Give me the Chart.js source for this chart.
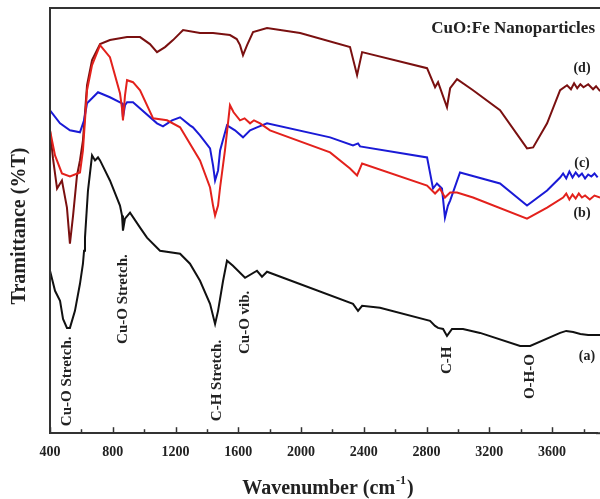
<!DOCTYPE html>
<html>
<head>
<meta charset="utf-8">
<script src="https://cdn.jsdelivr.net/npm/chart.js@4.4.1/dist/chart.umd.min.js"></script>
<style>
  html, body { margin: 0; padding: 0; background: #fff; }
  #wrap { width: 600px; height: 499px; }
</style>
</head>
<body>
<div id="wrap"><canvas id="ftir" width="600" height="499"></canvas></div>
<script>
// FTIR spectra, transmittance in arbitrary units (curves are offset)
const waveA = [400, 432, 464, 483, 508, 527, 559, 591, 610, 617, 623, 642, 668, 687, 706, 719, 782, 846, 859, 865, 878, 910, 974, 1018, 1101, 1229, 1292, 1356, 1420, 1452, 1471, 1503, 1528, 1566, 1643, 1719, 1751, 1783, 2331, 2363, 2389, 2503, 2822, 2854, 2873, 2905, 2930, 2962, 3032, 3141, 3396, 3460, 3651, 3690, 3734, 3780, 3830, 3906];
const transA = [162, 142, 132, 114, 105, 105, 122, 149, 169, 182, 195, 242, 277, 272, 275, 272, 252, 227, 217, 202, 214, 220, 205, 195, 182, 179, 169, 152, 129, 109, 122, 152, 172, 167, 155, 162, 156, 161, 129, 122, 127, 125, 112, 107, 105, 104, 97, 104, 104, 100, 87, 87, 100, 102, 101, 99, 98, 98];

const waveB = [400, 432, 476, 527, 591, 610, 636, 668, 719, 782, 846, 859, 865, 878, 891, 929, 974, 1057, 1146, 1229, 1356, 1420, 1439, 1452, 1471, 1484, 1515, 1547, 1570, 1611, 1640, 1675, 1700, 1739, 1802, 2185, 2312, 2357, 2389, 2803, 2854, 2885, 2917, 2950, 2994, 3096, 3440, 3568, 3670, 3690, 3710, 3730, 3750, 3770, 3790, 3810, 3840, 3870, 3906];
const transB = [302, 277, 259, 256, 260, 282, 342, 367, 387, 375, 339, 324, 312, 337, 352, 350, 342, 314, 312, 305, 272, 245, 227, 217, 227, 245, 282, 327, 320, 312, 314, 309, 312, 309, 302, 280, 264, 257, 269, 247, 239, 244, 235, 240, 240, 235, 214, 225, 235, 239, 233, 238, 234, 239, 235, 237, 233, 237, 235];

const waveC = [400, 464, 527, 591, 617, 636, 706, 782, 859, 865, 878, 891, 929, 1082, 1120, 1178, 1229, 1292, 1311, 1356, 1420, 1439, 1452, 1471, 1484, 1528, 1579, 1630, 1675, 1719, 1783, 2185, 2331, 2363, 2376, 2803, 2841, 2866, 2898, 2917, 2936, 2950, 3013, 3268, 3440, 3568, 3651, 3670, 3690, 3710, 3730, 3750, 3770, 3790, 3810, 3830, 3850, 3870, 3890, 3906];
const transC = [322, 309, 302, 300, 312, 329, 340, 335, 329, 315, 327, 330, 330, 309, 306, 312, 315, 307, 305, 297, 284, 267, 252, 262, 282, 307, 302, 295, 302, 305, 309, 295, 287, 289, 286, 275, 244, 249, 244, 215, 227, 232, 260, 249, 227, 242, 255, 259, 254, 261, 255, 260, 256, 259, 254, 258, 256, 259, 255, 257];

const waveD = [400, 419, 445, 476, 508, 527, 547, 572, 591, 610, 636, 668, 719, 782, 891, 974, 1037, 1082, 1133, 1184, 1248, 1356, 1439, 1547, 1590, 1611, 1630, 1656, 1694, 1783, 1994, 2312, 2357, 2389, 2803, 2854, 2873, 2930, 2950, 2994, 3096, 3268, 3440, 3479, 3568, 3651, 3695, 3720, 3740, 3760, 3780, 3800, 3830, 3861, 3880, 3906];
const transD = [302, 274, 244, 252, 225, 189, 217, 257, 272, 292, 347, 372, 388, 392, 395, 395, 388, 380, 385, 392, 402, 399, 399, 397, 393, 387, 377, 387, 400, 404, 399, 385, 357, 380, 364, 345, 350, 325, 344, 353, 342, 322, 284, 285, 309, 342, 347, 343, 349, 344, 348, 345, 348, 343, 346, 341];

const seriesNames = ['(a)', '(b)', '(c)', '(d)'];
const seriesColors = ['#111111', '#e3211c', '#1a1ad6', '#7a1010'];

// peak assignments: label, wavenumber, where the text starts (transmittance units)
const peakLabels = ['Cu-O Stretch.', 'Cu-O Stretch.', 'C-H Stretch.', 'Cu-O vib.', 'C-H', 'O-H-O'];
const peakWave = [508, 865, 1465, 1643, 2930, 3460];
const peakStart = [7, 89, 12, 79, 59, 34];

function pts(xs, ys) {
  return xs.map((x, i) => ({x: x, y: ys[i]}));
}

const serif = '"Liberation Serif", "Times New Roman", serif';

const annotate = {
  id: 'annotate',
  afterDraw(chart) {
    const ctx = chart.ctx;
    const area = chart.chartArea;
    const xs = chart.scales.x;
    const ys = chart.scales.y;
    ctx.save();
    // left and top frame
    ctx.strokeStyle = '#333';
    ctx.lineWidth = 2;
    ctx.beginPath();
    ctx.moveTo(area.left, area.bottom);
    ctx.lineTo(area.left, area.top);
    ctx.lineTo(chart.width, area.top);
    ctx.stroke();
    // bottom axis runs to the edge of the picture
    ctx.beginPath();
    ctx.moveTo(area.right - 1, area.bottom);
    ctx.lineTo(chart.width, area.bottom);
    ctx.stroke();
    // inward ticks
    ctx.lineWidth = 1.5;
    for (let v = 400; v <= 3900; v += 200) {
      const px = Math.round(xs.getPixelForValue(v)) + 0.5;
      const len = v % 400 === 0 ? 6 : 4;
      ctx.beginPath();
      ctx.moveTo(px, area.bottom);
      ctx.lineTo(px, area.bottom - len);
      ctx.stroke();
    }
    ctx.fillStyle = '#222';
    // rotated peak labels
    ctx.font = 'bold 15px ' + serif;
    ctx.textAlign = 'left';
    ctx.textBaseline = 'middle';
    peakLabels.forEach((t, i) => {
      ctx.save();
      ctx.translate(xs.getPixelForValue(peakWave[i]), ys.getPixelForValue(peakStart[i]));
      ctx.rotate(-Math.PI / 2);
      ctx.fillText(t, 0, 0);
      ctx.restore();
    });
    // series letters at right end
    ctx.font = 'bold 14px ' + serif;
    ctx.textAlign = 'center';
    ctx.fillText('(d)', 582, 68);
    ctx.fillText('(c)', 582, 163);
    ctx.fillText('(b)', 582, 213);
    ctx.fillText('(a)', 587, 356);
    // sample title
    ctx.font = 'bold 17px ' + serif;
    ctx.textAlign = 'right';
    ctx.fillText('CuO:Fe Nanoparticles', 595, 29);
    // y title
    ctx.font = 'bold 20px ' + serif;
    ctx.textAlign = 'center';
    ctx.save();
    ctx.translate(20, 226);
    ctx.rotate(-Math.PI / 2);
    ctx.fillText('Tramittance (%T)', 0, 0);
    ctx.restore();
    // x title with superscript
    const main = 'Wavenumber (cm';
    ctx.textAlign = 'left';
    ctx.font = 'bold 20px ' + serif;
    const w1 = ctx.measureText(main).width;
    ctx.font = 'bold 12px ' + serif;
    const w2 = ctx.measureText('-1').width;
    ctx.font = 'bold 20px ' + serif;
    const w3 = ctx.measureText(')').width;
    let x0 = 327 - (w1 + w2 + w3) / 2;
    ctx.fillText(main, x0, 489);
    ctx.font = 'bold 12px ' + serif;
    ctx.fillText('-1', x0 + w1 + 1, 481);
    ctx.font = 'bold 20px ' + serif;
    ctx.fillText(')', x0 + w1 + w2 + 2, 489);
    ctx.restore();
  }
};

const ds = [pts(waveA, transA), pts(waveB, transB), pts(waveC, transC), pts(waveD, transD)];

new Chart(document.getElementById('ftir'), {
  type: 'line',
  data: {
    datasets: ds.map((d, i) => ({
      label: seriesNames[i],
      data: d,
      borderColor: seriesColors[i],
      borderWidth: 2,
      pointRadius: 0,
      tension: 0,
      fill: false,
      clip: false
    }))
  },
  options: {
    responsive: false,
    animation: false,
    layout: { padding: { left: 50, top: 8, right: 0, bottom: 35 } },
    plugins: { legend: { display: false }, tooltip: { enabled: false } },
    scales: {
      x: {
        type: 'linear',
        min: 400,
        max: 3886,
        grid: { display: false },
        border: { display: true, color: '#333', width: 2 },
        ticks: {
          stepSize: 200,
          autoSkip: false,
          maxRotation: 0,
          padding: 3,
          color: '#222',
          font: { family: serif, size: 14, weight: 'bold' },
          callback: v => (v % 400 === 0 ? String(v) : '')
        }
      },
      y: { display: false, min: 0, max: 424 }
    }
  },
  plugins: [annotate]
});
</script>
</body>
</html>
